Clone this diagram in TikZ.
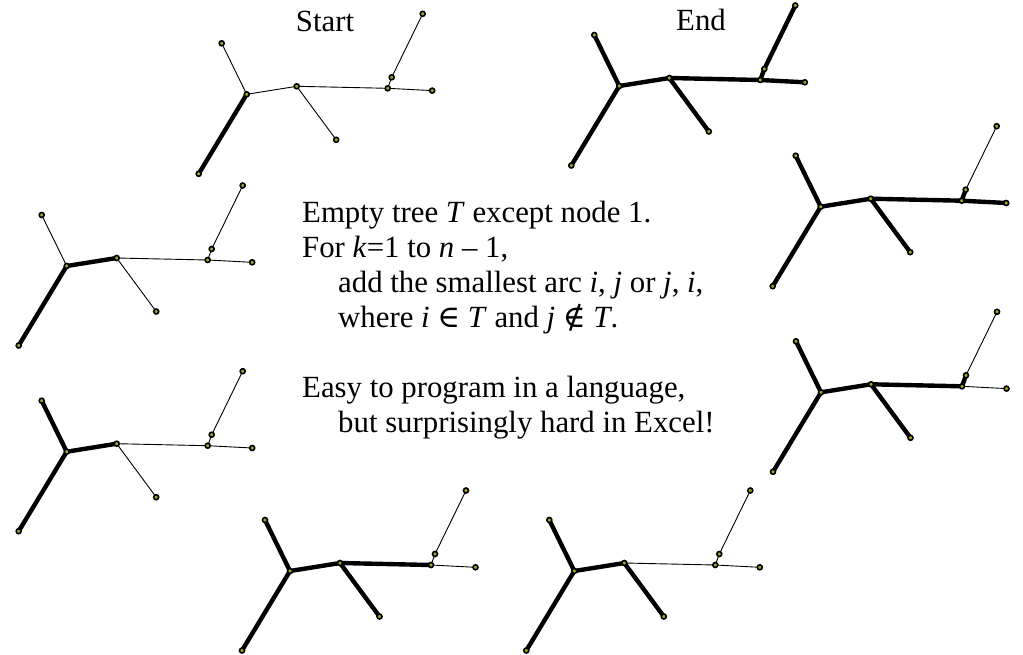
\documentclass[tikz,border=0pt]{standalone}
\usepackage{fontspec}
\setmainfont{Liberation Serif}
\newfontfamily\symfont{DejaVu Serif}
\usetikzlibrary{positioning}
\definecolor{dotfill}{RGB}{170,165,30}
\pgfdeclarelayer{edges}
\pgfsetlayers{edges,main}
\tikzset{
  vtx/.style={circle, draw=black, fill=dotfill, line width=1.6pt,
    inner sep=0pt, minimum size=5pt},
  thinarc/.style={line width=0.9pt, color=black},
  treearc/.style={line width=4.4pt, color=black, line cap=round, line join=round},
  txt/.style={inner sep=0pt, anchor=base west, font=\fontsize{30.8}{35}\selectfont}
}
% one copy of the tree, first #4 arcs of Prim's order drawn thick
\newcommand{\primstage}[4]{%
  \begin{scope}[shift={(#2,#3)}]
    \node[vtx] (#1a) at (-25,-51) {};
    \node[vtx] (#1b) at (0,0) {};
    \node[vtx] (#1c) at (-48,79.5) {};
    \node[vtx] (#1d) at (50,-8) {};
    \node[vtx] (#1e) at (89.5,45.5) {};
    \node[vtx] (#1f) at (141,-6) {};
    \node[vtx] (#1g) at (145,-17) {};
    \node[vtx] (#1h) at (176,-80.5) {};
    \node[vtx] (#1i) at (185.5,-3.7) {};
  \end{scope}
  \begin{pgfonlayer}{edges}
    \foreach \u/\v [count=\k] in {b/c, b/d, a/b, d/e, d/f, f/g, f/i, g/h}{
      \ifnum\k>#4\relax
        \draw[thinarc] (#1\u.center) -- (#1\v.center);
      \else
        \draw[treearc] (#1\u.center) -- (#1\v.center);
      \fi}
  \end{pgfonlayer}}

\begin{document}
\begin{tikzpicture}[x=1pt, y=-1pt]
  \useasboundingbox (0,0) rectangle (1023,654);

  % trees, going round
  \primstage{s}{246.7}{94.3}{1}
  \primstage{p}{66.7}{266}{2}
  \primstage{q}{66.7}{451.7}{3}
  \primstage{r}{574.3}{571}{4}
  \primstage{u}{290}{571}{5}
  \primstage{v}{821}{392.3}{6}
  \primstage{w}{820.7}{206.7}{7}
  \primstage{e}{619.3}{86}{8}

  \node[txt, anchor=base] (start) at (325,31) {Start};
  \node[txt, anchor=base] (end) at (701,30) {End};

  % algorithm
  \node[txt] (line1) at (302,222) {Empty tree \textit{T} except node 1.};
  \node[txt] (line2) at (302,257) {For \textit{k}=1 to \textit{n} – 1,};
  \node[txt] (line3) at (338,292) {add the smallest arc \textit{i}, \textit{j} or \textit{j}, \textit{i},};
  \node[txt] (line4) at (338,327) {where \textit{i} {\symfont ∈} \textit{T} and \textit{j} {\symfont ∉} \textit{T}.};
  \node[txt] (line5) at (302,397) {Easy to program in a language,};
  \node[txt] (line6) at (338,432) {but surprisingly hard in Excel!};
\end{tikzpicture}
\end{document}
